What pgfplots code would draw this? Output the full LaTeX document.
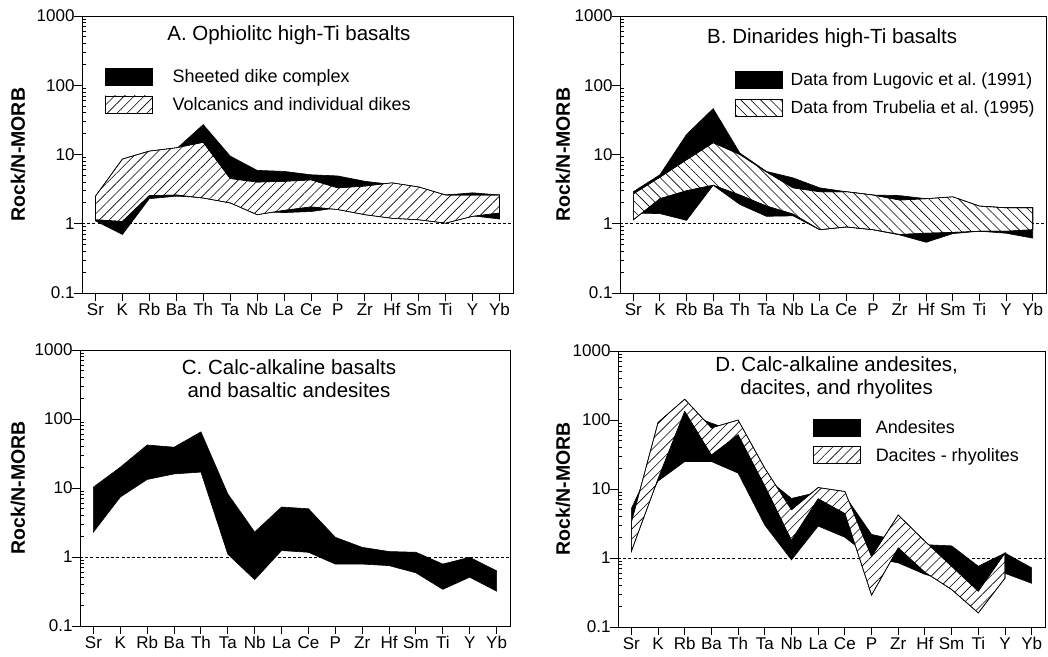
\documentclass[border=0pt]{standalone}
\usepackage{fontspec}
\setmainfont{Liberation Sans}
\usepackage{pgfplots}
\pgfplotsset{compat=1.18}
\usetikzlibrary{patterns.meta}

\newcommand\fs[1]{\fontsize{#1}{#1}\selectfont}
\newcommand\fss[1]{\fontsize{#1}{23}\selectfont}

\pgfplotsset{
  every axis/.append style={
    scale only axis,
    ymode=log, ymin=0.1, ymax=1000,
    xmin=-0.5, xmax=15.5,
    xtick={0,...,15},
    xticklabels={Sr,K,Rb,Ba,Th,Ta,Nb,La,Ce,P,Zr,Hf,Sm,Ti,Y,Yb},
    ytick={0.1,1,10,100,1000},
    yticklabels={0.1,1,10,100,1000},
    minor ytick={0.2,0.3,0.4,0.5,0.6,0.7,0.8,0.9,2,3,4,5,6,7,8,9,20,30,40,50,60,70,80,90,200,300,400,500,600,700,800,900},
    tick align=outside,
    xtick pos=bottom, ytick pos=left,
    major tick length=8pt, minor tick length=-3.5pt,
    every tick/.append style={black, line width=0.9pt},
    axis line style={line width=0.9pt},
    xticklabel style={font=\fs{17}, yshift=1pt},
    yticklabel style={font=\fs{17}, xshift=4pt},
    ylabel={Rock/N-MORB},
    legend cell align=left,
    legend style={draw=none, fill=none, inner sep=0pt, outer sep=0pt,
      row sep=10pt, anchor=north west, font=\fs{18},
      nodes={inner sep=0pt, outer sep=0pt}},
  },
  myblk/.style={fill=black, draw=black, line width=0.6pt},
  myhatch/.style={fill=white, draw=black, line width=0.6pt,
    postaction={pattern={Lines[angle=#1,distance=7pt,line width=0.6pt]}}},
  myref/.style={black, line width=0.8pt, dash pattern=on 3pt off 2.2pt, forget plot},
}

\begin{document}
\begin{tikzpicture}
\path[use as bounding box] (0,0) rectangle (1048pt,656pt);

% A
\begin{axis}[at={(82pt,363pt)}, anchor=south west, width=431pt, height=277pt,
  ylabel style={at={(rel axis cs:-0.1485,0.5)}, anchor=center, font=\bfseries\fs{19.5}},
  legend image code/.code={\draw[#1] (0pt,-8.5pt) rectangle (47pt,8.5pt);},
  legend style={at={(0.0535,0.812)}, column sep=20pt}]
\addplot[myref] coordinates {(-0.5,1) (15.5,1)};
\addplot[myblk] coordinates {(0,2.4) (1,6) (2,10) (3,12) (4,27) (5,9.5) (6,5.9) (7,5.7) (8,5.1) (9,4.9) (10,4.1) (11,3.7) (12,3.2) (13,2.6) (14,2.8) (15,2.6)
  (15,1.17) (14,1.3) (13,1.05) (12,1.2) (11,1.3) (10,1.5) (9,1.7) (8,1.5) (7,1.45) (6,1.5) (5,2.0) (4,2.4) (3,2.5) (2,2.3) (1,0.7) (0,1.1) (0,2.4)};
\addlegendentry{Sheeted dike complex}
\addplot[myhatch=45] coordinates {(0,2.5) (1,8.6) (2,11.2) (3,12.5) (4,15) (5,4.5) (6,4.0) (7,4.1) (8,4.3) (9,3.3) (10,3.5) (11,3.9) (12,3.4) (13,2.6) (14,2.6) (15,2.6)
  (15,1.43) (14,1.28) (13,1.02) (12,1.14) (11,1.2) (10,1.35) (9,1.6) (8,1.75) (7,1.56) (6,1.35) (5,2.0) (4,2.35) (3,2.6) (2,2.55) (1,1.08) (0,1.14) (0,2.5)};
\addlegendentry{Volcanics and individual dikes}
\node[font=\fs{20.5}] at (rel axis cs:0.48,0.931) {A. Ophiolitc high-Ti basalts};
\end{axis}

% B
\begin{axis}[at={(620pt,363pt)}, anchor=south west, width=426pt, height=277pt,
  ylabel style={at={(rel axis cs:-0.1338,0.5)}, anchor=center, font=\bfseries\fs{19.5}},
  legend image code/.code={\draw[#1] (0pt,-8.5pt) rectangle (47pt,8.5pt);},
  legend style={at={(0.27,0.801)}, column sep=8pt, font=\fs{17.6}}]
\addplot[myref] coordinates {(-0.5,1) (15.5,1)};
\addplot[myblk] coordinates {(0,2.9) (1,5.1) (2,19.5) (3,46) (4,10.5) (5,5.7) (6,4.6) (7,3.3) (8,2.9) (9,2.6) (10,2.55) (11,2.3) (12,2.4) (13,1.8) (14,1.7) (15,1.7)
  (15,0.62) (14,0.73) (13,0.78) (12,0.72) (11,0.54) (10,0.69) (9,0.82) (8,0.9) (7,0.82) (6,1.3) (5,1.28) (4,1.9) (3,3.6) (2,1.12) (1,1.4) (0,1.43) (0,2.9)};
\addlegendentry{Data from Lugovic et al.\ (1991)}
\addplot[myhatch=-45] coordinates {(0,2.7) (1,4.7) (2,8.4) (3,14.8) (4,10.0) (5,5.6) (6,3.3) (7,2.9) (8,2.9) (9,2.6) (10,2.2) (11,2.3) (12,2.45) (13,1.8) (14,1.7) (15,1.7)
  (15,0.82) (14,0.78) (13,0.78) (12,0.75) (11,0.73) (10,0.7) (9,0.82) (8,0.9) (7,0.82) (6,1.38) (5,1.8) (4,2.6) (3,3.6) (2,3.0) (1,2.3) (0,1.14) (0,2.7)};
\addlegendentry{Data from Trubelia et al.\ (1995)}
\node[font=\fs{20.5}] at (rel axis cs:0.498,0.92) {B. Dinarides high-Ti basalts};
\end{axis}

% C
\begin{axis}[at={(80pt,30pt)}, anchor=south west, width=430pt, height=276pt,
  ylabel style={at={(rel axis cs:-0.1442,0.5)}, anchor=center, font=\bfseries\fs{19.5}}]
\addplot[myref] coordinates {(-0.5,1) (15.5,1)};
\addplot[myblk] coordinates {(0,10.3) (1,20) (2,42) (3,39) (4,65) (5,8.2) (6,2.3) (7,5.3) (8,5.0) (9,1.93) (10,1.38) (11,1.2) (12,1.17) (13,0.79) (14,0.99) (15,0.63)
  (15,0.32) (14,0.51) (13,0.34) (12,0.59) (11,0.75) (10,0.79) (9,0.79) (8,1.17) (7,1.24) (6,0.47) (5,1.1) (4,17) (3,16) (2,13.3) (1,7.4) (0,2.3) (0,10.3)};
\node[font=\fss{20.5}, align=center] at (rel axis cs:0.486,0.896) {C. Calc-alkaline basalts\\and basaltic andesites};
\end{axis}

% D
\begin{axis}[at={(618pt,29pt)}, anchor=south west, width=427pt, height=276pt,
  ylabel style={at={(rel axis cs:-0.1288,0.5)}, anchor=center, font=\bfseries\fs{19.5}},
  legend image code/.code={\draw[#1] (0pt,-8.5pt) rectangle (47pt,8.5pt);},
  legend style={at={(0.457,0.754)}, column sep=15pt}]
\addplot[myref] coordinates {(-0.5,1) (15.5,1)};
\addplot[myblk] coordinates {(0,5.2) (1,35) (2,128) (3,90) (4,66) (5,15) (6,7.3) (7,9) (8,8) (9,2.2) (10,1.8) (11,1.56) (12,1.5) (13,0.76) (14,1.18) (15,0.72)
  (15,0.43) (14,0.6) (13,0.33) (12,0.45) (11,0.58) (10,0.85) (9,1.0) (8,2.0) (7,2.9) (6,0.94) (5,3.0) (4,17) (3,25) (2,25) (1,13) (0,2.5) (0,5.2)};
\addlegendentry{Andesites}
\addplot[myhatch=45] coordinates {(0,3.3) (1,92) (2,200) (3,77) (4,100) (5,20) (6,5.0) (7,10.5) (8,9.2) (9,1.05) (10,4.2) (11,1.75) (12,0.76) (13,0.33) (14,1.18)
  (14,0.51) (13,0.16) (12,0.35) (11,0.62) (10,1.4) (9,0.29) (8,4.4) (7,7.2) (6,1.8) (5,11) (4,61) (3,31) (2,133) (1,14) (0,1.25) (0,3.3)};
\addlegendentry{Dacites - rhyolites}
\node[font=\fss{20.5}, align=center] at (rel axis cs:0.512,0.904) {D. Calc-alkaline andesites,\\dacites, and rhyolites};
\end{axis}
\end{tikzpicture}
\end{document}
